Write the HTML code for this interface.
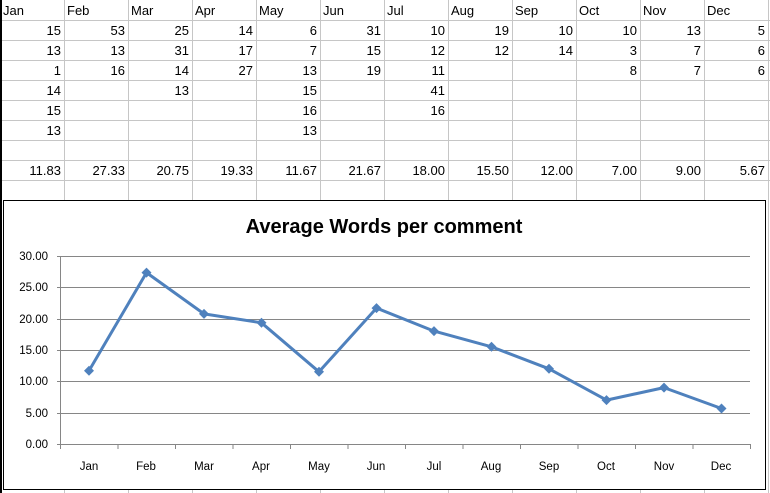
<!DOCTYPE html>
<html><head><meta charset="utf-8"><style>
body{margin:0;background:#fff;}
svg{display:block;font-family:"Liberation Sans","DejaVu Sans",sans-serif;}
</style></head><body>
<svg width="770" height="493" viewBox="0 0 770 493" xmlns="http://www.w3.org/2000/svg">
<rect width="770" height="493" fill="#fff"/>
<g stroke="#c6c6c6" stroke-width="1">
<line x1="0" y1="20.5" x2="770" y2="20.5"/><line x1="0" y1="40.5" x2="770" y2="40.5"/><line x1="0" y1="60.5" x2="770" y2="60.5"/><line x1="0" y1="80.5" x2="770" y2="80.5"/><line x1="0" y1="100.5" x2="770" y2="100.5"/><line x1="0" y1="120.5" x2="770" y2="120.5"/><line x1="0" y1="140.5" x2="770" y2="140.5"/><line x1="0" y1="160.5" x2="770" y2="160.5"/><line x1="0" y1="180.5" x2="770" y2="180.5"/>
<line x1="64.5" y1="0" x2="64.5" y2="493"/><line x1="128.5" y1="0" x2="128.5" y2="493"/><line x1="192.5" y1="0" x2="192.5" y2="493"/><line x1="256.5" y1="0" x2="256.5" y2="493"/><line x1="320.5" y1="0" x2="320.5" y2="493"/><line x1="384.5" y1="0" x2="384.5" y2="493"/><line x1="448.5" y1="0" x2="448.5" y2="493"/><line x1="512.5" y1="0" x2="512.5" y2="493"/><line x1="576.5" y1="0" x2="576.5" y2="493"/><line x1="640.5" y1="0" x2="640.5" y2="493"/><line x1="704.5" y1="0" x2="704.5" y2="493"/><line x1="768.5" y1="0" x2="768.5" y2="493"/>
</g>
<line x1="1" y1="0" x2="1" y2="493" stroke="#000" stroke-width="2"/>
<g font-size="13" fill="#000">
<text x="3" y="15">Jan</text><text x="67" y="15">Feb</text><text x="131" y="15">Mar</text><text x="195" y="15">Apr</text><text x="259" y="15">May</text><text x="323" y="15">Jun</text><text x="387" y="15">Jul</text><text x="451" y="15">Aug</text><text x="515" y="15">Sep</text><text x="579" y="15">Oct</text><text x="643" y="15">Nov</text><text x="707" y="15">Dec</text>
</g>
<g font-size="13" fill="#000" text-anchor="end">
<text x="61" y="35">15</text><text x="61" y="55">13</text><text x="61" y="75">1</text><text x="61" y="95">14</text><text x="61" y="115">15</text><text x="61" y="135">13</text>
<text x="125" y="35">53</text><text x="125" y="55">13</text><text x="125" y="75">16</text>
<text x="189" y="35">25</text><text x="189" y="55">31</text><text x="189" y="75">14</text><text x="189" y="95">13</text>
<text x="253" y="35">14</text><text x="253" y="55">17</text><text x="253" y="75">27</text>
<text x="317" y="35">6</text><text x="317" y="55">7</text><text x="317" y="75">13</text><text x="317" y="95">15</text><text x="317" y="115">16</text><text x="317" y="135">13</text>
<text x="381" y="35">31</text><text x="381" y="55">15</text><text x="381" y="75">19</text>
<text x="445" y="35">10</text><text x="445" y="55">12</text><text x="445" y="75">11</text><text x="445" y="95">41</text><text x="445" y="115">16</text>
<text x="509" y="35">19</text><text x="509" y="55">12</text>
<text x="573" y="35">10</text><text x="573" y="55">14</text>
<text x="637" y="35">10</text><text x="637" y="55">3</text><text x="637" y="75">8</text>
<text x="701" y="35">13</text><text x="701" y="55">7</text><text x="701" y="75">7</text>
<text x="765" y="35">5</text><text x="765" y="55">6</text><text x="765" y="75">6</text>
<text x="61" y="175">11.83</text><text x="125" y="175">27.33</text><text x="189" y="175">20.75</text><text x="253" y="175">19.33</text><text x="317" y="175">11.67</text><text x="381" y="175">21.67</text><text x="445" y="175">18.00</text><text x="509" y="175">15.50</text><text x="573" y="175">12.00</text><text x="637" y="175">7.00</text><text x="701" y="175">9.00</text><text x="765" y="175">5.67</text>
</g>
<rect x="3.5" y="200.5" width="762" height="289" fill="#fff" stroke="#000" stroke-width="1"/>
<text x="384" y="233" font-size="20" font-weight="bold" text-anchor="middle" fill="#000">Average Words per comment</text>
<g stroke="#868686" stroke-width="1">
<line x1="57" y1="256.5" x2="750" y2="256.5"/><line x1="57" y1="287.5" x2="750" y2="287.5"/><line x1="57" y1="319.5" x2="750" y2="319.5"/><line x1="57" y1="350.5" x2="750" y2="350.5"/><line x1="57" y1="381.5" x2="750" y2="381.5"/><line x1="57" y1="413.5" x2="750" y2="413.5"/><line x1="57" y1="444.5" x2="750" y2="444.5"/>
<line x1="60.5" y1="256" x2="60.5" y2="445"/>
<line x1="60.5" y1="444" x2="60.5" y2="449"/><line x1="118" y1="444" x2="118" y2="449"/><line x1="175.5" y1="444" x2="175.5" y2="449"/><line x1="233" y1="444" x2="233" y2="449"/><line x1="290.5" y1="444" x2="290.5" y2="449"/><line x1="348" y1="444" x2="348" y2="449"/><line x1="405.5" y1="444" x2="405.5" y2="449"/><line x1="463" y1="444" x2="463" y2="449"/><line x1="520.5" y1="444" x2="520.5" y2="449"/><line x1="578" y1="444" x2="578" y2="449"/><line x1="635.5" y1="444" x2="635.5" y2="449"/><line x1="693" y1="444" x2="693" y2="449"/><line x1="750.5" y1="444" x2="750.5" y2="449"/>
</g>
<g font-size="11.5" fill="#000" text-anchor="end">
<text x="48" y="260">30.00</text><text x="48" y="291">25.00</text><text x="48" y="323">20.00</text><text x="48" y="354">15.00</text><text x="48" y="385">10.00</text><text x="48" y="417">5.00</text><text x="48" y="448">0.00</text>
</g>
<g font-size="11.5" fill="#000" text-anchor="middle">
<text x="89" y="470">Jan</text><text x="146" y="470">Feb</text><text x="204" y="470">Mar</text><text x="261" y="470">Apr</text><text x="319" y="470">May</text><text x="376" y="470">Jun</text><text x="434" y="470">Jul</text><text x="491" y="470">Aug</text><text x="549" y="470">Sep</text><text x="606" y="470">Oct</text><text x="664" y="470">Nov</text><text x="721" y="470">Dec</text>
</g>
<polyline fill="none" stroke="#4f81bd" stroke-width="3" stroke-linejoin="round" points="89,370.8 146.5,272.6 204,313.9 261.5,322.8 319,371.8 376.5,308.1 434,331.1 491.5,346.8 549,368.8 606.5,400.1 664,387.6 721.5,408.5"/>
<g fill="#4f81bd">
<path d="M89 365.8l5 5-5 5-5-5z"/><path d="M146.5 267.6l5 5-5 5-5-5z"/><path d="M204 308.9l5 5-5 5-5-5z"/><path d="M261.5 317.8l5 5-5 5-5-5z"/><path d="M319 366.8l5 5-5 5-5-5z"/><path d="M376.5 303.1l5 5-5 5-5-5z"/><path d="M434 326.1l5 5-5 5-5-5z"/><path d="M491.5 341.8l5 5-5 5-5-5z"/><path d="M549 363.8l5 5-5 5-5-5z"/><path d="M606.5 395.1l5 5-5 5-5-5z"/><path d="M664 382.6l5 5-5 5-5-5z"/><path d="M721.5 403.5l5 5-5 5-5-5z"/>
</g>
</svg>
</body></html>
